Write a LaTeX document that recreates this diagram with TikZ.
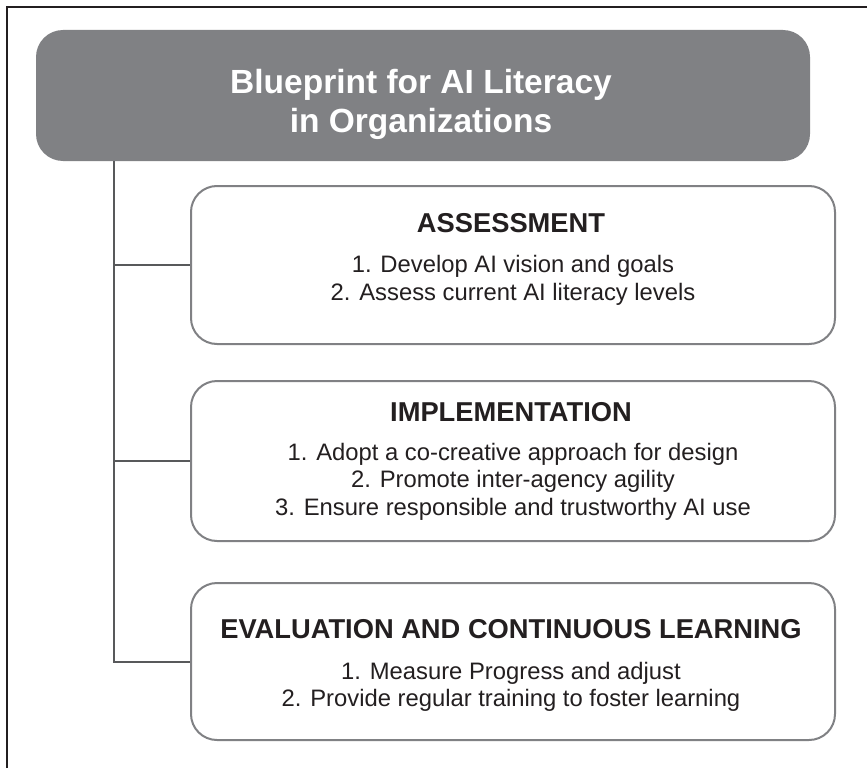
\documentclass[tikz,border=0pt]{standalone}
\usepackage{fontspec}
\setmainfont{Liberation Sans}
\definecolor{inkdark}{HTML}{231F20}
\definecolor{panelgray}{HTML}{808184}
\definecolor{linkgray}{HTML}{58595B}
\begin{document}
\begin{tikzpicture}[x=1pt, y=-1pt,
  titlebox/.style={fill=panelgray, draw=none, rounded corners=27pt,
    minimum width=774pt, minimum height=131pt, inner sep=0pt},
  stagebox/.style={draw=panelgray, line width=2pt, rounded corners=26pt,
    fill=white, minimum width=644pt, inner sep=0pt},
  % multi-line texts are anchored at the baseline of their last line
  titletext/.style={text=white, font=\fontsize{33.5}{39}\selectfont\bfseries,
    align=center, anchor=base, inner sep=0pt},
  headtext/.style={text=inkdark, font=\fontsize{27.3}{32}\selectfont\bfseries,
    anchor=base, inner sep=0pt},
  itemtext/.style={text=inkdark, font=\fontsize{23.8}{27.5}\selectfont,
    align=center, anchor=base, inner sep=0pt},
  link/.style={draw=linkgray, line width=2pt},
  frame/.style={draw=inkdark, line width=2.2pt}]
\useasboundingbox (0,0) rectangle (867,768);
\fill[white] (0,0) rectangle (867,768);

% outer frame (top and left edges)
\draw[frame] (7,768) -- (7,7) -- (867,7);

% title panel
\node[titlebox] (title) at (423,95.5) {};
\node[titletext] (titletxt) at (421,132) {Blueprint for AI Literacy\\in Organizations};

% stage panels
\node[stagebox, minimum height=158pt] (assess) at (513,265) {};
\node[stagebox, minimum height=160pt] (implem) at (513,461) {};
\node[stagebox, minimum height=157pt] (evalb)  at (513,661.5) {};

% panel texts
\node[headtext] (assesshead) at (511,232) {ASSESSMENT};
\node[itemtext] (assessitems) at (513,300) {1. Develop AI vision and goals\\2. Assess current AI literacy levels};

\node[headtext] (implemhead) at (511,421) {IMPLEMENTATION};
\node[itemtext] (implemitems) at (513,515) {1. Adopt a co-creative approach for design\\2. Promote inter-agency agility\\3. Ensure responsible and trustworthy AI use};

\node[headtext] (evalhead) at (511,638) {EVALUATION AND CONTINUOUS LEARNING};
\node[itemtext] (evalitems) at (511,706.5) {1. Measure Progress and adjust\\2. Provide regular training to foster learning};

% tree connectors
\coordinate (trunk) at (114,0);
\draw[link] (title.south -| trunk) |- (evalb.west);
\draw[link] (trunk |- assess.west) -- (assess.west);
\draw[link] (trunk |- implem.west) -- (implem.west);
\end{tikzpicture}
\end{document}
